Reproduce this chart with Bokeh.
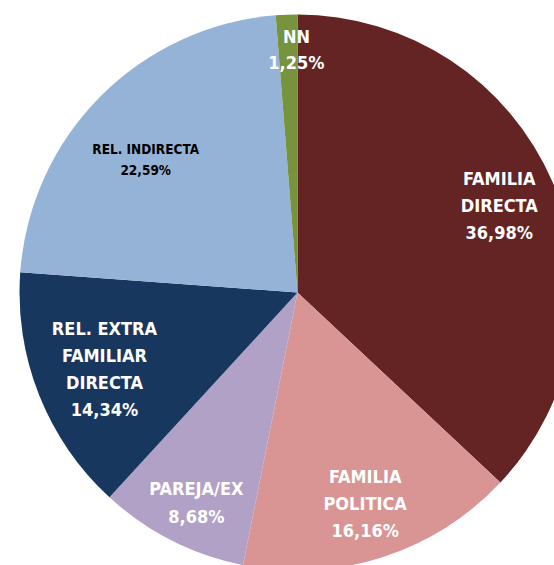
import numpy as np
from bokeh.plotting import figure
from bokeh.models import ColumnDataSource, Range1d
from bokeh.core.properties import value
from bokeh.embed import file_html
from bokeh.resources import INLINE

# ---- data ----
label_lines = [["FAMILIA", "DIRECTA"], ["FAMILIA", "POLITICA"], ["PAREJA/EX"],
               ["REL. EXTRA", "FAMILIAR", "DIRECTA"], ["REL. INDIRECTA"], ["NN"]]
shares = [36.98, 16.16, 8.68, 14.34, 22.59, 1.25]
colors = ["#632423", "#D99594", "#B2A1C7", "#17375E", "#95B3D7", "#77933C"]
text_colors = ["white", "white", "white", "white", "black", "white"]

# ---- layout ----
W, H = 554, 565
cx, cy, R = 297, 273, 278
label_rfrac = [0.791, 0.797, 0.838, 0.747, 0.725, 0.874]
label_doff = [0.0, 0.0, -1.2, 0.0, -3.7, 2.0]
label_size = [18, 18, 18, 18, 13.5, 18]
line_gap = [27, 27, 28, 27, 21, 26]
FONT = "DejaVu Sans Condensed"

p = figure(width=W, height=H, x_range=Range1d(0, W), y_range=Range1d(0, H),
           output_backend="svg", toolbar_location=None, min_border=0)
p.axis.visible = False
p.grid.visible = False
p.outline_line_color = None
p.background_fill_color = "white"
p.border_fill_color = "white"

fr = np.array(shares) / sum(shares)
cum = np.concatenate([[0], np.cumsum(fr)])
start = np.pi / 2 - cum[:-1] * 2 * np.pi
end = np.pi / 2 - cum[1:] * 2 * np.pi

src = ColumnDataSource(dict(x=[cx] * len(shares), y=[cy] * len(shares),
                            start=list(start), end=list(end), color=colors))
p.wedge(x="x", y="y", radius=R, start_angle="start", end_angle="end",
        direction="clock", fill_color="color", line_color=None, source=src)

for i, lines in enumerate(label_lines):
    mid = (cum[i] + cum[i + 1]) / 2 * 360 + label_doff[i]
    th = np.deg2rad(mid)
    r = label_rfrac[i] * R
    lx = cx + r * np.sin(th)
    ly = cy + r * np.cos(th)
    pct = f"{shares[i]:.2f}%".replace(".", ",")
    allines = lines + [pct]
    n = len(allines)
    xs, ys = [], []
    for k, t in enumerate(allines):
        xs.append(lx)
        ys.append(ly + ((n - 1) / 2 - k) * line_gap[i])
    p.text(x=xs, y=ys, text=allines, text_align="center", text_baseline="middle",
           text_font=value(FONT), text_font_style="bold",
           text_font_size=f"{label_size[i]}px", text_color=text_colors[i])

open("out.html", "w").write(file_html(p, INLINE))
